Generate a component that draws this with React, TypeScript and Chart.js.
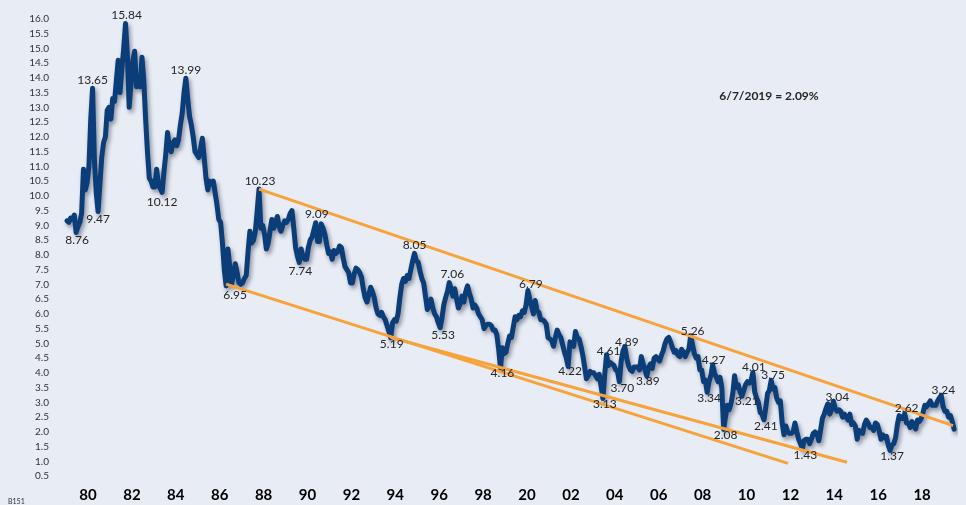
import React, { useEffect, useRef } from "react";
import { Chart, registerables } from "chart.js";

Chart.register(...registerables);

// Monthly 10-year yield readings (%), first value = Jan 1979
const startYear = 1979;
const yields1979to1988 = [
  9.15, 9.1, 9.25, 9.2, 9.35, 8.76, 8.95, 9.1, 9.4, 10.9, 10.2, 10.45,
  11.0, 12.6, 13.65, 11.2, 10.1, 9.47, 10.4, 11.3, 11.8, 12.0, 12.9, 13.0,
  12.6, 13.3, 13.2, 13.9, 14.6, 13.5, 14.3, 15.0, 15.84, 14.8, 13.0, 13.8,
  14.6, 14.9, 13.7, 14.0, 13.7, 14.7, 13.9, 12.6, 11.5, 10.6, 10.5, 10.3,
  10.3, 10.9, 10.4, 10.25, 10.12, 10.8, 11.4, 12.15, 11.6, 11.5, 11.8, 11.9,
  11.7, 11.9, 12.4, 12.8, 13.5, 13.99, 13.3, 12.7, 12.4, 12.0, 11.5, 11.4,
  11.3, 11.6, 11.95, 11.3, 10.6, 10.2, 10.5, 10.4, 10.5, 10.1, 9.7, 9.2,
  9.1, 8.4, 7.5, 6.95, 8.2, 7.6, 7.0, 7.3, 7.7, 7.4, 7.05, 7.0,
  7.05, 7.2, 7.3, 8.1, 8.8, 8.4, 8.5, 8.8, 9.5, 10.23, 8.9, 9.0,
  8.7, 8.2, 8.4, 8.8, 9.2, 8.9, 9.1, 9.3, 8.95, 8.8, 9.0, 9.15,
];
const yields1989to1998 = [
  9.1, 9.2, 9.4, 9.5, 8.9, 8.25, 7.95, 7.74, 8.2, 7.95, 7.85, 7.85,
  8.25, 8.5, 8.6, 8.85, 9.09, 8.45, 8.45, 9.05, 8.9, 8.7, 8.35, 8.05,
  8.1, 7.85, 8.15, 8.05, 8.1, 8.3, 8.25, 7.9, 7.6, 7.5, 7.4, 7.05,
  7.05, 7.35, 7.55, 7.5, 7.4, 7.25, 6.85, 6.55, 6.4, 6.65, 6.9, 6.75,
  6.55, 6.2, 6.0, 5.95, 6.05, 5.9, 5.8, 5.6, 5.4, 5.19, 5.7, 5.8,
  5.75, 6.0, 6.55, 7.0, 7.2, 7.1, 7.3, 7.2, 7.5, 7.8, 8.05, 7.8,
  7.75, 7.45, 7.2, 7.05, 6.6, 6.15, 6.3, 6.5, 6.2, 6.0, 5.9, 5.7,
  5.53, 5.85, 6.3, 6.55, 6.75, 7.06, 6.85, 6.6, 6.85, 6.5, 6.2, 6.35,
  6.6, 6.4, 6.75, 6.95, 6.7, 6.5, 6.2, 6.3, 6.2, 6.0, 5.9, 5.8,
  5.5, 5.6, 5.65, 5.65, 5.6, 5.45, 5.45, 5.3, 4.8, 4.16, 4.85, 4.65,
];
const yields1999to2008 = [
  4.7, 5.0, 5.25, 5.2, 5.55, 5.9, 5.8, 5.95, 5.9, 6.1, 6.05, 6.3,
  6.79, 6.5, 6.25, 6.0, 6.45, 6.1, 6.05, 5.8, 5.8, 5.75, 5.65, 5.2,
  5.15, 5.1, 4.9, 5.2, 5.45, 5.3, 5.2, 4.95, 4.7, 4.5, 4.22, 5.05,
  5.0, 4.9, 5.4, 5.2, 5.15, 4.9, 4.6, 4.2, 3.8, 3.9, 4.05, 4.0,
  4.0, 3.9, 3.8, 3.95, 3.55, 3.13, 3.95, 4.61, 4.25, 4.35, 4.3, 4.25,
  4.1, 4.05, 3.7, 4.4, 4.75, 4.89, 4.5, 4.25, 4.1, 4.05, 4.2, 4.2,
  4.2, 4.1, 4.55, 4.3, 4.1, 3.89, 4.2, 4.3, 4.15, 4.5, 4.55, 4.45,
  4.4, 4.6, 4.75, 5.0, 5.15, 5.2, 5.05, 4.85, 4.7, 4.75, 4.6, 4.55,
  4.8, 4.7, 4.55, 4.7, 4.8, 5.26, 4.95, 4.65, 4.5, 4.55, 4.1, 4.1,
  3.7, 3.75, 3.34, 3.7, 3.9, 4.27, 4.0, 3.85, 3.7, 3.85, 3.5, 2.08,
];
const yields2009to2019 = [
  2.5, 2.9, 2.75, 2.95, 3.3, 3.9, 3.5, 3.6, 3.35, 3.21, 3.4, 3.6,
  3.7, 3.65, 3.75, 4.01, 3.35, 3.15, 3.0, 2.65, 2.6, 2.41, 2.8, 3.3,
  3.4, 3.75, 3.45, 3.5, 3.15, 3.0, 3.05, 2.3, 1.9, 2.2, 2.0, 1.95,
  1.95, 2.0, 2.3, 2.0, 1.75, 1.6, 1.43, 1.7, 1.75, 1.75, 1.6, 1.75,
  1.95, 2.0, 1.95, 1.7, 2.05, 2.45, 2.6, 2.8, 2.95, 2.6, 2.75, 3.04,
  2.8, 2.7, 2.75, 2.7, 2.5, 2.6, 2.5, 2.4, 2.6, 2.25, 2.3, 2.2,
  1.75, 2.05, 2.0, 1.95, 2.25, 2.4, 2.3, 2.15, 2.15, 2.05, 2.3, 2.25,
  2.05, 1.75, 1.9, 1.8, 1.85, 1.55, 1.37, 1.55, 1.6, 1.8, 2.25, 2.55,
  2.45, 2.45, 2.62, 2.3, 2.3, 2.15, 2.35, 2.2, 2.1, 2.4, 2.35, 2.45,
  2.65, 2.9, 2.85, 2.95, 3.05, 2.9, 2.9, 2.9, 3.05, 3.15, 3.24, 2.85,
  2.7, 2.7, 2.5, 2.55, 2.35, 2.09,
];

const xTickYears = [1980, 1982, 1984, 1986, 1988, 1990, 1992, 1994, 1996, 1998, 2000, 2002, 2004, 2006, 2008, 2010, 2012, 2014, 2016, 2018];
const xTickLabels = ["80", "82", "84", "86", "88", "90", "92", "94", "96", "98", "20", "02", "04", "06", "08", "10", "12", "14", "16", "18"];
const yTickValues = [0.5, 1.0, 1.5, 2.0, 2.5, 3.0, 3.5, 4.0, 4.5, 5.0, 5.5, 6.0, 6.5, 7.0, 7.5, 8.0, 8.5, 9.0, 9.5, 10.0, 10.5, 11.0, 11.5, 12.0, 12.5, 13.0, 13.5, 14.0, 14.5, 15.0, 15.5, 16.0];

// Trend channel end points (decimal year, yield)
const upperChannel = [{ x: 1987.79, y: 10.23 }, { x: 2019.41, y: 2.21 }];
const lowerChannelA = [{ x: 1986.29, y: 7.01 }, { x: 2011.89, y: 0.93 }];
const lowerChannelB = [{ x: 1993.79, y: 5.2 }, { x: 2014.58, y: 0.97 }];

// Labelled turning points: [year, month index]
const annotatedMonths = [
  [1979, 5], [1980, 2], [1980, 5], [1981, 8], [1983, 4], [1984, 5], [1986, 3], [1987, 9],
  [1989, 7], [1990, 4], [1993, 9], [1994, 10], [1996, 0], [1996, 5], [1998, 9], [2000, 0],
  [2001, 10], [2003, 5], [2003, 7], [2004, 2], [2004, 5], [2005, 5], [2007, 5], [2008, 2],
  [2008, 5], [2008, 11], [2009, 9], [2010, 3], [2010, 9], [2011, 1], [2012, 6], [2013, 11],
  [2016, 6], [2017, 2], [2018, 10],
];
// label placement relative to its point (px)
const annotationOffsets = [
  [1, 8], [0, -8], [0, 8], [1, -8], [0, 10], [0, -8], [9, 9], [1, -8],
  [1, 9], [1, -9], [1, 6], [0, -8], [3, 7], [3, -8], [2, 5], [3, -6],
  [2, 5], [2, 6], [2, -4], [3, 6], [2, -4], [1, 5], [2, -5], [2, 6],
  [1, -5], [2, 6], [5, 5], [1, -5], [2, 6], [2, -5], [3, 6], [4, -4],
  [2, 6], [2, -5], [2, -5],
];
const latestNote = "6/7/2019 = 2.09%";
const sourceCode = "B151";

const BG = "#E7ECF5";
const BLUE = "#0B3D79";
const ORANGE = "#F7A23A";

export default function App() {
  const ref = useRef<HTMLCanvasElement | null>(null);

  useEffect(() => {
    if (!ref.current) return;
    const series = [...yields1979to1988, ...yields1989to1998, ...yields1999to2008, ...yields2009to2019];
    const points = series.map((v, i) => ({ x: startYear + (i + 0.5) / 12, y: v }));

    Chart.defaults.font.family = "Lato, 'DejaVu Sans', sans-serif";

    const bgPlugin = {
      id: "bg",
      beforeDraw(chart: any) {
        const c = chart.ctx;
        c.save();
        c.fillStyle = BG;
        c.fillRect(0, 0, chart.width, chart.height);
        c.restore();
      },
    };

    const shadowPlugin = {
      id: "lineShadow",
      beforeDatasetDraw(chart: any, args: any) {
        if (args.index === 0) {
          const c = chart.ctx;
          c.save();
          c.shadowColor = "rgba(30,30,50,0.45)";
          c.shadowBlur = 4;
          c.shadowOffsetX = 2;
          c.shadowOffsetY = 3;
        }
      },
      afterDatasetDraw(chart: any, args: any) {
        if (args.index === 0) chart.ctx.restore();
      },
    };

    const labelPlugin = {
      id: "labels",
      afterDatasetsDraw(chart: any) {
        const c = chart.ctx;
        const xs = chart.scales.x;
        const ys = chart.scales.y;
        c.save();
        c.fillStyle = "#262626";
        c.font = "12px Lato, sans-serif";
        c.textAlign = "center";
        c.textBaseline = "middle";
        annotatedMonths.forEach(([yr, m], k) => {
          const idx = (yr - startYear) * 12 + m;
          const v = series[idx];
          const px = xs.getPixelForValue(startYear + (idx + 0.5) / 12);
          const py = ys.getPixelForValue(v);
          const [dx, dy] = annotationOffsets[k];
          c.fillText(v.toFixed(2), px + dx, py + dy);
        });
        c.font = "bold 12px Lato, sans-serif";
        c.fillStyle = "#262626";
        c.fillText(latestNote, 769, 96);
        c.font = "7px Lato, sans-serif";
        c.textAlign = "left";
        c.fillStyle = "#333";
        c.fillText(sourceCode, 8, 502);
        c.restore();
      },
    };

    const chart = new Chart(ref.current, {
      type: "line",
      data: {
        datasets: [
          {
            data: points,
            borderColor: BLUE,
            borderWidth: 5,
            pointRadius: 0,
            tension: 0,
            borderJoinStyle: "round",
            borderCapStyle: "round",
            order: 2,
          },
          { data: upperChannel, borderColor: ORANGE, borderWidth: 3, pointRadius: 0, order: 1 },
          { data: lowerChannelA, borderColor: ORANGE, borderWidth: 3, pointRadius: 0, order: 1 },
          { data: lowerChannelB, borderColor: ORANGE, borderWidth: 3, pointRadius: 0, order: 1 },
        ],
      } as any,
      options: {
        animation: false,
        responsive: true,
        maintainAspectRatio: false,
        parsing: false,
        layout: { padding: { top: 5, right: 8, left: 0, bottom: 0 } },
        plugins: { legend: { display: false }, tooltip: { enabled: false } },
        scales: {
          x: {
            type: "linear",
            min: 1978.405,
            max: 2019.636,
            grid: { display: false, drawTicks: false },
            border: { display: false },
            afterBuildTicks: (s: any) => {
              s.ticks = xTickYears.map((v) => ({ value: v }));
            },
            afterFit: (s: any) => {
              s.height = 23;
            },
            ticks: {
              padding: 4,
              autoSkip: false,
              maxRotation: 0,
              color: "#000",
              font: { size: 15, weight: "bold" },
              callback: (_v: any, i: number) => xTickLabels[i],
            },
          },
          y: {
            type: "linear",
            min: 0.3,
            max: 16.3,
            grid: { display: false, drawTicks: false },
            border: { display: false },
            afterBuildTicks: (s: any) => {
              s.ticks = yTickValues.map((v) => ({ value: v }));
            },
            afterFit: (s: any) => {
              s.width = 53;
            },
            ticks: {
              padding: 4,
              autoSkip: false,
              color: "#333",
              font: { size: 10 },
              callback: (v: any) => Number(v).toFixed(1),
            },
          },
        },
      } as any,
      plugins: [bgPlugin, shadowPlugin, labelPlugin],
    });
    return () => chart.destroy();
  }, []);

  return (
    <div style={{ position: "fixed", left: 0, top: 0, width: 966, height: 505, background: BG }}>
      <canvas ref={ref} />
    </div>
  );
}
